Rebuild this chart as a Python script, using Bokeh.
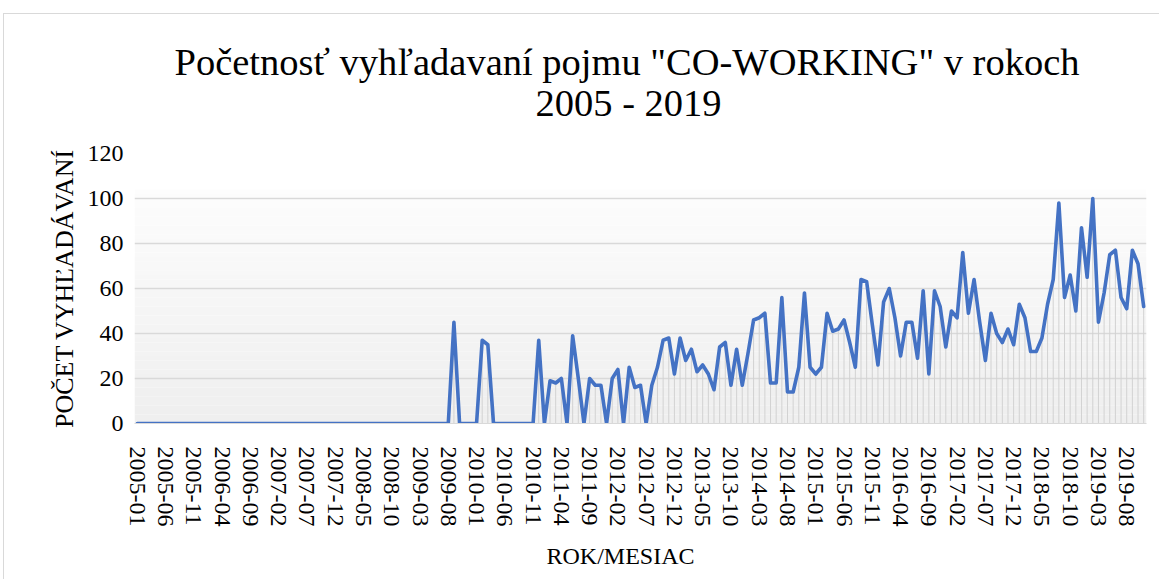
import numpy as np
from bokeh.plotting import figure
from bokeh.models import FixedTicker, Title, Range1d
from bokeh.embed import file_html
from bokeh.resources import INLINE

# ---- data -------------------------------------------------------------
months = [f"{y}-{m:02d}" for y in range(2005, 2020) for m in range(1, 13)][:179]

values = [
    0, 0, 0, 0, 0, 0, 0, 0, 0, 0, 0, 0,            # 2005
    0, 0, 0, 0, 0, 0, 0, 0, 0, 0, 0, 0,            # 2006
    0, 0, 0, 0, 0, 0, 0, 0, 0, 0, 0, 0,            # 2007
    0, 0, 0, 0, 0, 0, 0, 0, 0, 0, 0, 0,            # 2008
    0, 0, 0, 0, 0, 0, 0, 0, 45, 0, 0, 0,           # 2009
    0, 37, 35, 0, 0, 0, 0, 0, 0, 0, 0, 37,         # 2010
    0, 19, 18, 20, 0, 39, 20, 0, 20, 17, 17, 0,    # 2011
    20, 24, 0, 25, 16, 17, 0, 17, 25, 37, 38, 22,  # 2012
    38, 28, 33, 23, 26, 22, 15, 34, 36, 17, 33, 17,  # 2013
    31, 46, 47, 49, 18, 18, 56, 14, 14, 25, 58, 25,  # 2014
    22, 25, 49, 41, 42, 46, 36, 25, 64, 63, 44, 26,  # 2015
    54, 60, 47, 30, 45, 45, 29, 59, 22, 59, 52, 34,  # 2016
    50, 47, 76, 49, 64, 45, 28, 49, 40, 36, 42, 35,  # 2017
    53, 47, 32, 32, 38, 53, 64, 98, 56, 66, 50, 87,  # 2018
    65, 100, 45, 58, 75, 77, 56, 51, 77, 71, 52,     # 2019
]

y_ticks = [0, 20, 40, 60, 80, 100, 120]
label_step = 5

title_line1 = 'Početnosť vyhľadavaní pojmu "CO-WORKING" v rokoch'
title_line2 = "2005 - 2019"
x_title = "ROK/MESIAC"
y_title = "POČET VYHĽADÁVANÍ"

# ---- figure -----------------------------------------------------------
FONT = "Liberation Serif"
idx = list(range(len(values)))
n = len(values)

p = figure(width=1156, height=566,
           x_range=Range1d(-0.5, n - 0.5), y_range=Range1d(0, 120),
           output_backend="svg", toolbar_location=None,
           min_border_left=130, min_border_right=14,
           min_border_top=139, min_border_bottom=157)
p.styles = {"margin-left": "3px", "margin-top": "13px",
            "border-left": "1px solid #d9d9d9", "border-top": "1px solid #d9d9d9"}
p.outline_line_color = None
p.background_fill_color = "white"
p.border_fill_color = "white"

# subtle vertical gradient of the plot area (decoration)
edges = np.linspace(0, 104, 53)
fr = np.linspace(0.0, 1.0, len(edges) - 1)
cols = ["#%02x%02x%02x" % (int(239 + 14 * f), int(239 + 14 * f), int(239 + 14 * f)) for f in fr]
p.quad(left=-0.5, right=n - 0.5, bottom=edges[:-1], top=edges[1:],
       fill_color=cols, line_color=None, level="image")

# drop lines
p.segment(x0=idx, y0=[0] * n, x1=idx, y1=values, line_color="#d2d2d2", line_width=1)

# main line
p.line(idx, values, line_color="#4472C4", line_width=3.6,
       line_join="round", line_cap="round")

# grid
p.xgrid.grid_line_color = None
p.ygrid.grid_line_color = "#d9d9d9"
p.ygrid.grid_line_width = 1.5

# axes
p.xaxis.ticker = FixedTicker(ticks=list(range(0, n, label_step)))
p.xaxis.major_label_overrides = {i: months[i] for i in range(0, n, label_step)}
p.xaxis.major_label_orientation = "vertical"
p.xaxis.axis_line_color = "#d9d9d9"
p.yaxis.ticker = FixedTicker(ticks=y_ticks)
p.yaxis.axis_line_color = None
for ax in (p.xaxis[0], p.yaxis[0]):
    ax.major_tick_line_color = None
    ax.minor_tick_line_color = None
    ax.major_label_text_font = FONT
    ax.major_label_text_font_size = "24px"
    ax.major_label_text_color = "#000000"
    ax.axis_label_text_font = FONT
    ax.axis_label_text_font_style = "normal"
    ax.axis_label_text_color = "#000000"
p.xaxis.major_label_standoff = 17
p.yaxis.major_label_standoff = 5
p.yaxis.axis_label = y_title
p.yaxis.axis_label_text_font_size = "26px"
p.yaxis.axis_label_standoff = 6

# x axis title placed as a "below" title so it can be shifted like the original
xt = Title(text=x_title, align="left", offset=412, text_font=FONT, text_font_size="24px",
           text_font_style="normal", text_color="#000000", standoff=23)
p.add_layout(xt, "below")

# titles: p.title is the top line, the added Title sits right above the plot
p.title.text = title_line1
p.title.align = "left"
p.title.offset = 40
p.title.text_font = FONT
p.title.text_font_size = "38.5px"
p.title.text_font_style = "normal"
p.title.text_color = "#000000"
p.title.standoff = -66
t2 = Title(text=title_line2, align="left", offset=401, text_font=FONT, text_font_size="38.5px",
           text_font_style="normal", text_color="#000000", standoff=60)
p.add_layout(t2, "above")

open("out.html", "w").write(file_html(p, INLINE))
